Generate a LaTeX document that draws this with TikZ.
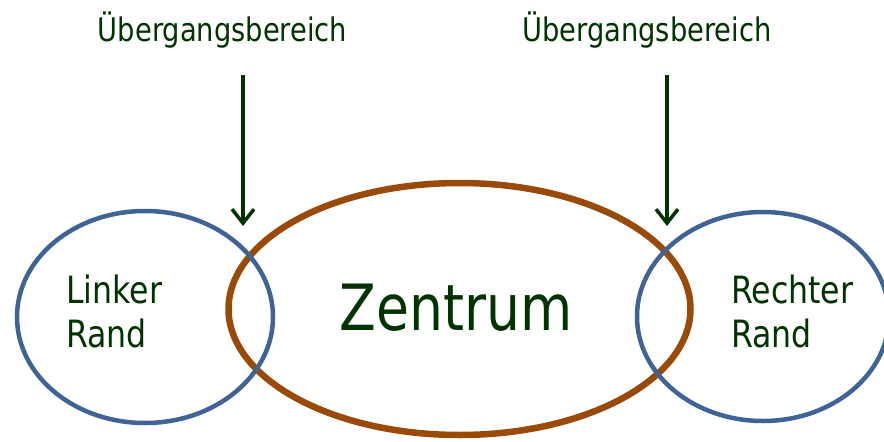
\documentclass[tikz,border=0pt]{standalone}
\usepackage{fontspec}
\setmainfont{DejaVu Sans}[FakeStretch=0.84]
\usetikzlibrary{shapes.geometric,arrows.meta}
\definecolor{txtgreen}{RGB}{0,51,0}
\definecolor{randblue}{RGB}{63,99,148}
\definecolor{zentbrown}{RGB}{153,74,8}
\tikzset{
  oval/.style={ellipse,draw,inner sep=0pt,outer sep=0pt},
  randoval/.style={oval,draw=randblue,line width=4.5pt},
  zentoval/.style={oval,draw=zentbrown,line width=6.5pt},
  lbl/.style={text=txtgreen,inner sep=0pt,align=left},
  arr/.style={draw=txtgreen,line width=3.5pt,-{Straight Barb[length=14pt,width=22pt,line width=3.5pt]}}
}
\begin{document}
\begin{tikzpicture}[x=1pt,y=-1pt]
\useasboundingbox (0,0) rectangle (884,442);
% centre ellipse first, blue ones on top
\node[zentoval,minimum width=462pt,minimum height=252pt] (Z) at (459.5,309) {};
\node[randoval,minimum width=256pt,minimum height=212pt] (L) at (145,317) {};
\node[randoval,minimum width=252pt,minimum height=209pt] (R) at (763,316.5) {};
% texts
\node[lbl,font=\fontsize{63.8}{70}\selectfont,anchor=base] (zt) at (456,330) {Zentrum};
\node[lbl,font=\fontsize{37.6}{44}\selectfont,anchor=base west] (lt1) at (66,303) {Linker};
\node[lbl,font=\fontsize{37.6}{44}\selectfont,anchor=base west] (lt2) at (66,347) {Rand};
\node[lbl,font=\fontsize{37.6}{44}\selectfont,anchor=base west] (rt1) at (731,303) {Rechter};
\node[lbl,font=\fontsize{37.6}{44}\selectfont,anchor=base west] (rt2) at (731,347) {Rand};
\node[lbl,font=\fontsize{32.5}{38}\selectfont,anchor=base] (u1) at (222.5,41) {Übergangsbereich};
\node[lbl,font=\fontsize{32.5}{38}\selectfont,anchor=base] (u2) at (647,41) {Übergangsbereich};
% arrows
\coordinate (a1s) at (243,75);
\coordinate (a1e) at (243,226);
\coordinate (a2s) at (667,75);
\coordinate (a2e) at (667,226);
\draw[arr] (a1s) -- (a1e);
\draw[arr] (a2s) -- (a2e);
\end{tikzpicture}
\end{document}
